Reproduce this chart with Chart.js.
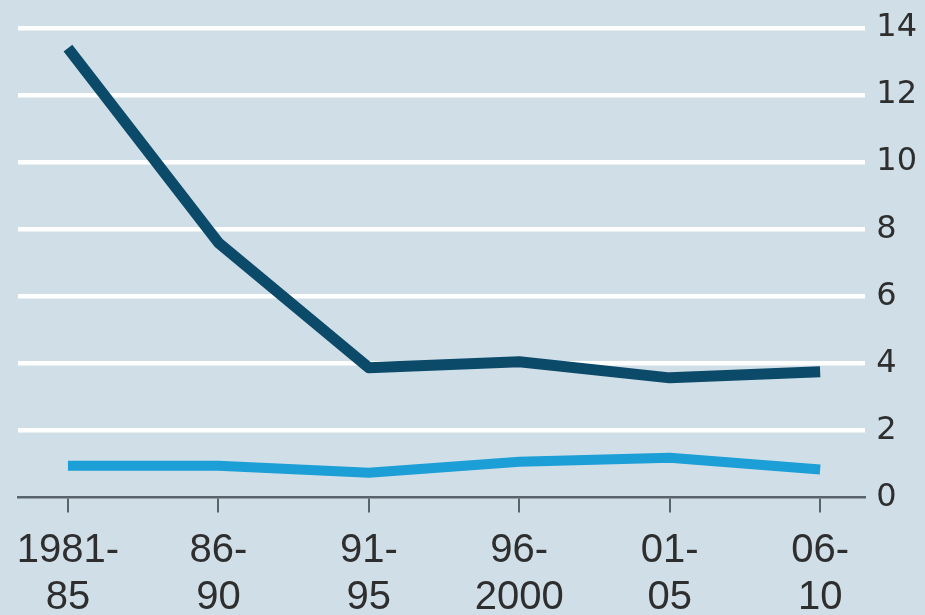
<!DOCTYPE html>
<html>
<head>
<meta charset="utf-8">
<script src="https://cdn.jsdelivr.net/npm/chart.js@4/dist/chart.umd.min.js"></script>
<style>
  html, body { margin: 0; padding: 0; background: #cfdee7; overflow: hidden; }
  #wrap { width: 925px; height: 615px; }
</style>
</head>
<body>
<div id="wrap"><canvas id="chart" width="925" height="615"></canvas></div>
<script>
const CATEGORIES = [["1981-", "85"], ["86-", "90"], ["91-", "95"], ["96-", "2000"], ["01-", "05"], ["06-", "10"]];
const DARK_VALUES = [13.4, 7.6, 3.87, 4.05, 3.57, 3.75];
const LIGHT_VALUES = [0.95, 0.95, 0.74, 1.07, 1.19, 0.84];
const Y_TICKS = [0, 2, 4, 6, 8, 10, 12, 14];

const COLORS = {
  dark: "#0c4a6a",
  light: "#1b9fd6",
  grid: "#ffffff",
  axis: "#59636b",
  text: "#2e2e2e",
};

function toPoints(values) {
  return values.map((v, i) => ({ x: i, y: v }));
}

function initializeChart() {
  const ctx = document.getElementById("chart");

  new Chart(ctx, {
    type: "line",
    data: {
      datasets: [
        {
          data: toPoints(DARK_VALUES),
          borderColor: COLORS.dark,
          borderWidth: 11,
          borderCapStyle: "butt",
          borderJoinStyle: "round",
          pointRadius: 0,
          tension: 0,
        },
        {
          data: toPoints(LIGHT_VALUES),
          borderColor: COLORS.light,
          borderWidth: 10,
          borderCapStyle: "butt",
          borderJoinStyle: "round",
          pointRadius: 0,
          tension: 0,
        },
      ],
    },
    options: {
      responsive: false,
      animation: false,
      layout: { padding: { top: 28, right: -3, left: 18, bottom: -22 } },
      plugins: { legend: { display: false }, tooltip: { enabled: false } },
      scales: {
        x: {
          type: "linear",
          min: -0.332,
          max: 5.3,
          afterBuildTicks: (axis) => {
            axis.ticks = CATEGORIES.map((c, i) => ({ value: i }));
          },
          grid: {
            drawOnChartArea: false,
            drawTicks: true,
            tickLength: 15,
            tickColor: COLORS.axis,
            lineWidth: 2,
          },
          border: { display: true, color: COLORS.axis, width: 2.5 },
          ticks: {
            autoSkip: false,
            maxRotation: 0,
            padding: 15,
            color: COLORS.text,
            font: { family: "'Liberation Sans', Arial, sans-serif", size: 40, lineHeight: 1.18 },
            callback: (value) => CATEGORIES[value],
          },
        },
        y: {
          position: "right",
          min: 0,
          max: 14,
          afterBuildTicks: (axis) => {
            axis.ticks = Y_TICKS.map((v) => ({ value: v }));
          },
          grid: {
            drawTicks: false,
            color: (c) => (c.tick && c.tick.value === 0 ? "rgba(0,0,0,0)" : COLORS.grid),
            lineWidth: 4.5,
          },
          border: { display: false },
          ticks: {
            padding: 11,
            color: COLORS.text,
            font: { family: "'DejaVu Sans', sans-serif", size: 32, lineHeight: 1 },
          },
        },
      },
    },
  });
}

initializeChart();
</script>
</body>
</html>
